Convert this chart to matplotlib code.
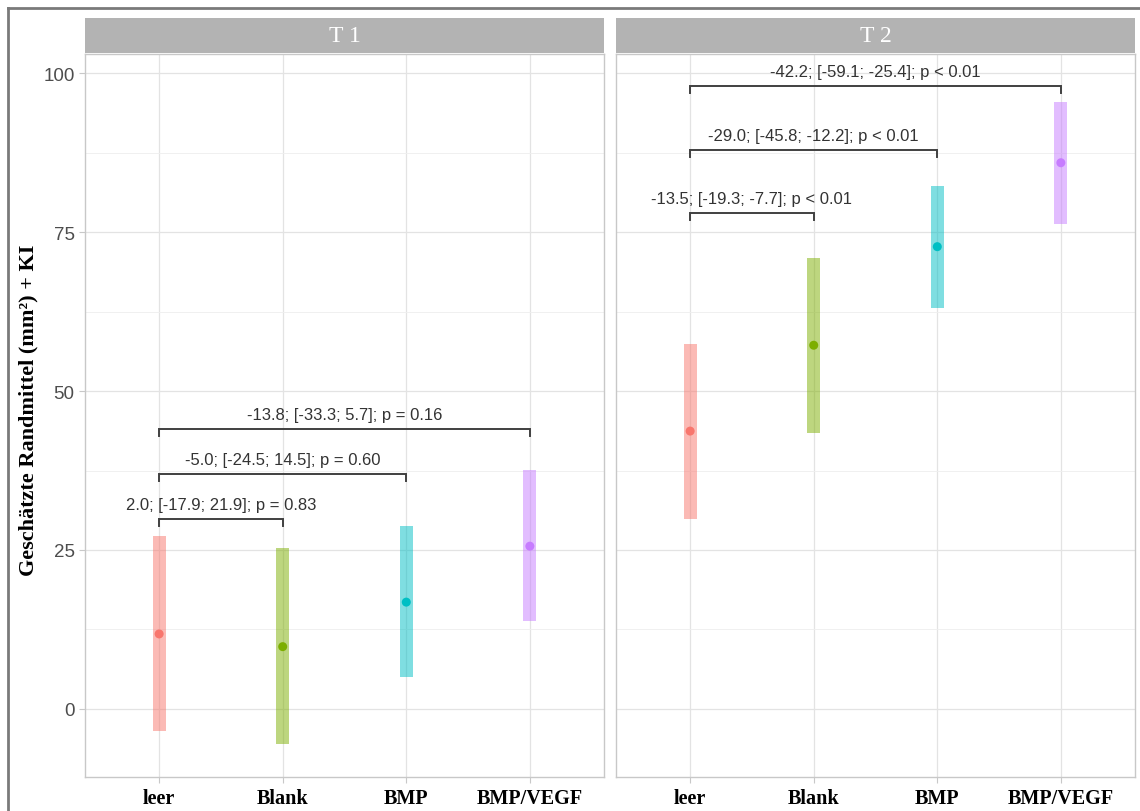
import matplotlib.pyplot as plt
from matplotlib.lines import Line2D

groups = ["leer", "Blank", "BMP", "BMP/VEGF"]
colors = ["#F8766D", "#7CAE00", "#00BFC4", "#C77CFF"]

t1_est = [11.8, 9.8, 16.8, 25.6]
t1_lo = [-3.5, -5.5, 5.0, 13.8]
t1_hi = [27.2, 25.3, 28.8, 37.6]

t2_est = [43.7, 57.2, 72.7, 85.9]
t2_lo = [29.9, 43.4, 63.1, 76.3]
t2_hi = [57.4, 70.9, 82.2, 95.4]

t1_pairs = [(1, 2), (1, 3), (1, 4)]
t1_bracket_y = [29.9, 37.0, 44.0]
t1_labels = ["2.0; [-17.9; 21.9]; p = 0.83",
             "-5.0; [-24.5; 14.5]; p = 0.60",
             "-13.8; [-33.3; 5.7]; p = 0.16"]

t2_pairs = [(1, 2), (1, 3), (1, 4)]
t2_bracket_y = [78.0, 87.9, 98.0]
t2_labels = ["-13.5; [-19.3; -7.7]; p < 0.01",
             "-29.0; [-45.8; -12.2]; p < 0.01",
             "-42.2; [-59.1; -25.4]; p < 0.01"]

W, H = 1140, 812
fig = plt.figure(figsize=(W / 100, H / 100), dpi=100)
fig.patch.set_facecolor("white")

serif = ["Liberation Serif", "DejaVu Serif"]
sans = ["Liberation Sans", "DejaVu Sans"]


def panel(x0, x1, title, est, lo, hi, pairs, by, labels, show_y):
    left, right = x0 / W, x1 / W
    bottom, top = 1 - 778 / H, 1 - 55 / H
    ax = fig.add_axes([left, bottom, right - left, top - bottom])
    xs = list(range(1, len(groups) + 1))

    ax.set_xlim(0.4, 4.6)
    ax.set_ylim(-10.7, 103.0)
    ax.set_yticks([0, 25, 50, 75, 100])
    ax.set_yticks([12.5, 37.5, 62.5, 87.5], minor=True)
    ax.set_xticks(xs)
    ax.grid(True, which="major", color="#e3e3e3", lw=0.9, zorder=0)
    ax.grid(True, which="minor", axis="y", color="#eeeeee", lw=0.6, zorder=0)
    ax.set_axisbelow(True)
    for s in ax.spines.values():
        s.set_color("#c8c8c8")
        s.set_linewidth(1.0)

    heights = [h - l for h, l in zip(hi, lo)]
    ax.bar(xs, heights, bottom=lo, width=0.105, color=colors, alpha=0.5,
           linewidth=0, zorder=2)
    ax.scatter(xs, est, s=42, color=colors, zorder=3, linewidths=0)

    for (a, b), y, lab in zip(pairs, by, labels):
        ax.plot([a, a, b, b], [y - 1.1, y, y, y - 1.1], color="#404040",
                lw=1.4, zorder=4, solid_joinstyle="miter")
        ax.text((a + b) / 2, y + 1.1, lab, ha="center", va="bottom",
                fontsize=12, color="#333333", family=sans, zorder=5)

    ax.set_xticklabels(groups, family=serif, fontweight="bold", fontsize=14.5,
                       color="black")
    ax.tick_params(axis="x", length=4, color="#c8c8c8", pad=4)
    ax.tick_params(axis="y", which="minor", length=0)
    if show_y:
        ax.set_yticklabels(["0", "25", "50", "75", "100"], family=sans,
                           fontsize=13.5, color="#4d4d4d")
        ax.tick_params(axis="y", length=4, color="#c8c8c8")
    else:
        ax.tick_params(axis="y", length=0, labelleft=False)

    # strip
    st = fig.add_axes([left, 1 - 54 / H, right - left, 35 / H])
    st.set_facecolor("#b3b3b3")
    st.set_xticks([])
    st.set_yticks([])
    for s in st.spines.values():
        s.set_visible(False)
    st.text(0.5, 0.5, title, ha="center", va="center", color="white",
            fontsize=17, family=serif, transform=st.transAxes)
    return ax


ax1 = panel(85, 604, "T 1", t1_est, t1_lo, t1_hi, t1_pairs, t1_bracket_y,
            t1_labels, True)
ax2 = panel(616, 1135, "T 2", t2_est, t2_lo, t2_hi, t2_pairs, t2_bracket_y,
            t2_labels, False)

fig.text(28 / W, 1 - 410 / H, "Geschätzte Randmittel (mm²) + KI",
         rotation=90, ha="center", va="center", fontsize=16,
         fontweight="bold", family=serif, color="black")

# outer frame of the figure
fig.add_artist(Line2D([8 / W, 1], [1 - 9 / H, 1 - 9 / H], color="#7a7a7a",
                      lw=2, transform=fig.transFigure))
fig.add_artist(Line2D([8 / W, 8 / W], [0, 1 - 9 / H], color="#7a7a7a",
                      lw=2, transform=fig.transFigure))

fig.savefig("out.png", dpi=100)
